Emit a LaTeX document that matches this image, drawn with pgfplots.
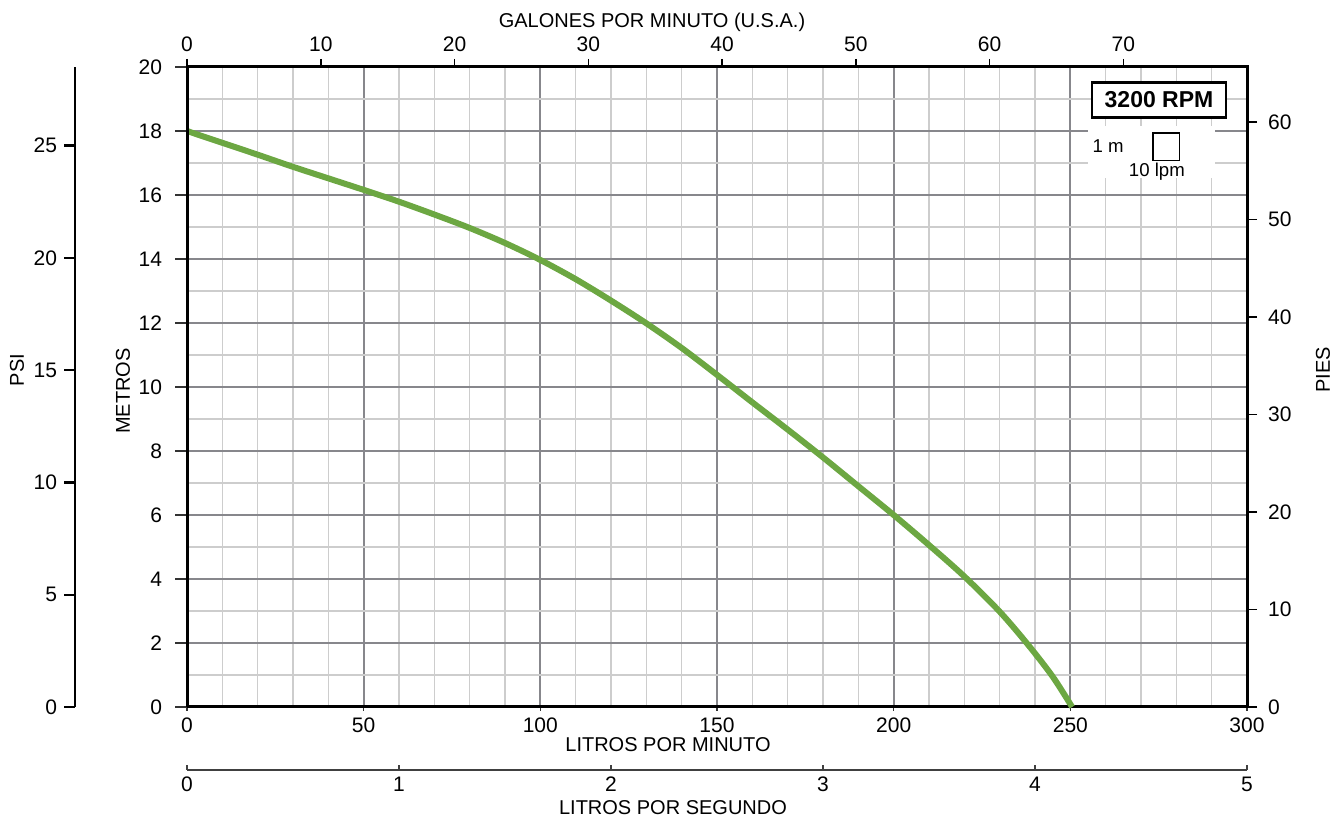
\documentclass[border=0pt]{standalone}
\usepackage{fontspec}
\setmainfont{Liberation Sans}
\usepackage{pgfplots}
\usepackage{pgfplotstable}
\pgfplotsset{compat=1.18}

\definecolor{curvegreen}{RGB}{108,167,66}
\definecolor{majgrid}{RGB}{135,135,140}
\definecolor{mingrid}{RGB}{205,205,205}

% caudal (lpm) vs altura (m)
\pgfplotstableread{
lpm   m
0     18.00
10    17.63
20    17.26
30    16.88
40    16.52
50    16.16
60    15.79
70    15.39
80    14.97
90    14.50
100   13.97
110   13.37
120   12.70
130   11.99
140   11.22
150   10.38
160   9.52
170   8.67
180   7.80
190   6.90
200   6.00
210   5.06
220   4.08
230   2.98
238   1.95
245   0.95
250.5 0.00
}\pumpdata

\pgfplotsset{
  base/.style={
    scale only axis, at={(0,0)}, anchor=south west,
    width=530pt, height=320pt,
    tick label style={font=\fontsize{10.5}{12}\selectfont},
    /pgf/number format/assume math mode=true,
    tick align=outside,
  },
}

\begin{document}
\begin{tikzpicture}
% main axis: lpm / metros
\begin{axis}[base,
  xmin=0, xmax=300, ymin=0, ymax=20,
  xtick={0,50,...,300}, ytick={0,2,...,20},
  yticklabels={},
  minor x tick num=4, minor y tick num=1,
  grid=both,
  major grid style={majgrid, line width=1pt},
  minor grid style={mingrid, line width=0.75pt},
  axis line style={line width=1.5pt},
  xtick pos=bottom, ytick pos=left,
  major tick length=2pt, minor tick length=0pt,
  tick style={black!80, line width=0.75pt},
  clip=false,
]
\addplot[curvegreen, line width=3pt, smooth] table[x=lpm, y=m] {\pumpdata};
% scale legend
\fill[white] (axis cs:255,16.53) rectangle (axis cs:290.9,18.16);
\node[draw, line width=1.2pt, fill=white, inner sep=0pt,
      minimum width=67pt, minimum height=17.5pt,
      font=\bfseries\fontsize{11.5}{13}\selectfont] at (axis cs:275.1,18.97) {3200 RPM};
\draw[black, line width=0.6pt] (axis cs:273.4,17.09) rectangle (axis cs:281.0,17.94);
\node[font=\fontsize{9.3}{11}\selectfont] at (axis cs:260.7,17.53) {1 m};
\node[font=\fontsize{9.3}{11}\selectfont] at (axis cs:274.5,16.72) {10 lpm};
\end{axis}

% left: metros ticks
\begin{axis}[base,
  xmin=0, xmax=1, ymin=0, ymax=20,
  axis y line*=left, axis x line=none,
  ytick={0,2,...,20},
  yticklabel style={xshift=-3pt},
  major tick length=6pt,
  tick style={black!80, line width=0.75pt},
  axis line style={-, line width=1.5pt},
]
\end{axis}

% top: galones por minuto
\begin{axis}[base,
  xmin=0, xmax=79.25, ymin=0, ymax=1,
  axis x line*=top, axis y line=none,
  xtick={0,10,...,70},
  major tick length=4pt,
  tick style={black, line width=0.75pt},
  axis line style={-, line width=1.5pt},
]
\end{axis}

% right: pies
\begin{axis}[base,
  xmin=0, xmax=1, ymin=0, ymax=65.62,
  axis y line*=right, axis x line=none,
  ytick={0,10,...,60},
  yticklabel style={xshift=2pt},
  major tick length=5pt,
  tick style={black, line width=0.75pt},
  axis line style={-, line width=1.5pt},
]
\end{axis}

% left: psi
\begin{axis}[base, at={(-56pt,0)}, width=1pt,
  xmin=0, xmax=1, ymin=0, ymax=28.5,
  axis y line*=left, axis x line=none,
  ytick={0,5,...,25},
  major tick length=5.5pt,
  tick style={black, line width=1.2pt},
  axis line style={-, line width=1.2pt},
]
\end{axis}

% bottom: litros por segundo
\begin{axis}[base, at={(0,-31.5pt)}, height=1pt,
  xmin=0, xmax=5, ymin=0, ymax=1,
  axis x line*=bottom, axis y line=none,
  xtick={0,1,...,5},
  tick align=inside,
  major tick length=2.5pt,
  tick style={black!75, line width=0.75pt},
  axis line style={-, black!75, line width=0.9pt},
]
\end{axis}

\node[font=\fontsize{10}{12}\selectfont] at (232.5pt,342.5pt) {GALONES POR MINUTO (U.S.A.)};
\node[font=\fontsize{10}{12}\selectfont] at (240.5pt,-19pt) {LITROS POR MINUTO};
\node[font=\fontsize{10}{12}\selectfont] at (243pt,-50.5pt) {LITROS POR SEGUNDO};
\node[font=\fontsize{10}{12}\selectfont, rotate=90] at (-32pt,158pt) {METROS};
\node[font=\fontsize{10}{12}\selectfont, rotate=90] at (-85pt,168.5pt) {PSI};
\node[font=\fontsize{10}{12}\selectfont, rotate=90] at (568pt,168.5pt) {PIES};

\pgfresetboundingbox
\path[use as bounding box] (-93.5pt,-58pt) rectangle (575.5pt,353.5pt);
\end{tikzpicture}
\end{document}
